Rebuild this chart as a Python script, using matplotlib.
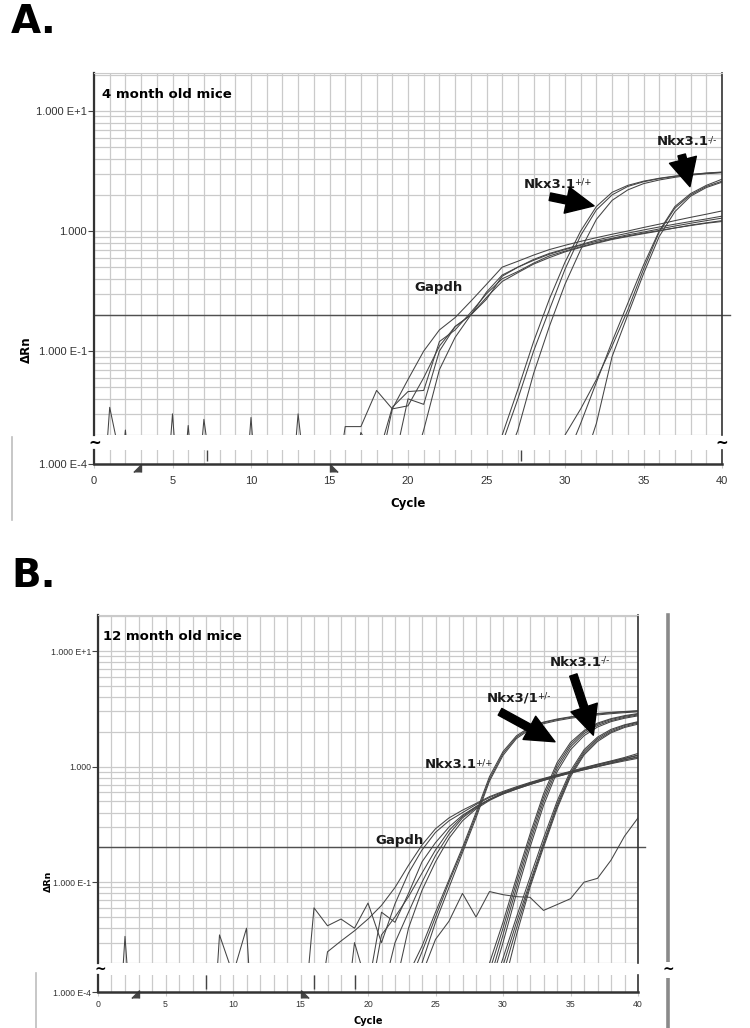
import matplotlib
matplotlib.use("Agg")
import matplotlib.pyplot as plt
from matplotlib.lines import Line2D
from matplotlib.ticker import FixedLocator, LogLocator, MultipleLocator, NullFormatter
from matplotlib.transforms import blended_transform_factory

# ---------------- panel A: 4 month old mice ----------------
a_gapdh_cyc = list(range(15, 41))
a_gapdh_1 = [0.003, 0.0235, 0.0235, 0.047, 0.033, 0.058, 0.10, 0.15, 0.19, 0.26, 0.36, 0.50, 0.56,
             0.63, 0.70, 0.76, 0.82, 0.88, 0.94, 1.00, 1.07, 1.14, 1.22, 1.30, 1.38, 1.47]
a_gapdh_2 = [0.003, 0.005, 0.021, 0.012, 0.034, 0.046, 0.047, 0.12, 0.15, 0.21, 0.30, 0.40, 0.46,
             0.54, 0.62, 0.68, 0.74, 0.80, 0.86, 0.91, 0.96, 1.01, 1.06, 1.12, 1.17, 1.22]
a_gapdh_3 = [0.003, 0.004, 0.004, 0.008, 0.033, 0.035, 0.06, 0.11, 0.16, 0.20, 0.31, 0.43, 0.50,
             0.57, 0.64, 0.70, 0.76, 0.82, 0.87, 0.93, 0.98, 1.04, 1.10, 1.16, 1.22, 1.28]
a_gapdh_4 = [0.003, 0.004, 0.004, 0.004, 0.004, 0.008, 0.022, 0.07, 0.13, 0.20, 0.28, 0.38, 0.45,
             0.53, 0.60, 0.67, 0.73, 0.79, 0.85, 0.90, 0.95, 1.00, 1.06, 1.11, 1.16, 1.20]
a_gapdh_5 = [0.003, 0.004, 0.004, 0.004, 0.010, 0.040, 0.036, 0.10, 0.16, 0.20, 0.27, 0.42, 0.50,
             0.58, 0.65, 0.71, 0.77, 0.84, 0.90, 0.96, 1.02, 1.08, 1.14, 1.20, 1.26, 1.33]

a_wt_cyc = list(range(25, 41))
a_wt_1 = [0.008, 0.02, 0.048, 0.12, 0.27, 0.55, 1.0, 1.6, 2.1, 2.4, 2.6, 2.75, 2.87, 2.96, 3.04, 3.1]
a_wt_2 = [0.006, 0.017, 0.04, 0.10, 0.22, 0.48, 0.92, 1.5, 2.0, 2.35, 2.57, 2.73, 2.85, 2.95, 3.03, 3.08]
a_wt_3 = [0.004, 0.01, 0.022, 0.065, 0.16, 0.36, 0.70, 1.25, 1.8, 2.2, 2.48, 2.66, 2.8, 2.92, 3.0, 3.06]

a_ko_cyc = list(range(29, 41))
a_ko_1 = [0.008, 0.02, 0.033, 0.058, 0.11, 0.22, 0.48, 0.98, 1.55, 2.0, 2.35, 2.6]
a_ko_2 = [0.005, 0.012, 0.025, 0.055, 0.12, 0.25, 0.52, 1.0, 1.6, 2.05, 2.4, 2.7]
a_ko_3 = [0.004, 0.006, 0.01, 0.025, 0.09, 0.20, 0.44, 0.9, 1.45, 1.95, 2.3, 2.55]

a_noise_cyc = [[0, 1, 2], [1, 2, 3], [4, 5, 6], [5, 6, 7], [6, 7, 8], [9, 10, 11], [12, 13, 14]]
a_noise_val = [[0.0005, 0.034, 0.008], [0.001, 0.022, 0.001], [0.0005, 0.030, 0.0005],
               [0.0008, 0.024, 0.0008], [0.0008, 0.027, 0.003], [0.0005, 0.028, 0.0005],
               [0.0008, 0.030, 0.002]]
a_strip_marks = [7.2, 27.2]

# ---------------- panel B: 12 month old mice ----------------
b_gapdh_cyc = list(range(15, 41))
b_gapdh_1 = [0.004, 0.004, 0.025, 0.031, 0.038, 0.048, 0.063, 0.09, 0.14, 0.21, 0.29, 0.36, 0.42,
             0.48, 0.55, 0.61, 0.67, 0.73, 0.79, 0.85, 0.91, 0.98, 1.05, 1.12, 1.20, 1.30]
b_gapdh_2 = [0.003, 0.06, 0.042, 0.048, 0.04, 0.066, 0.03, 0.065, 0.12, 0.19, 0.27, 0.34, 0.40,
             0.47, 0.54, 0.60, 0.66, 0.72, 0.78, 0.84, 0.90, 0.96, 1.03, 1.10, 1.17, 1.25]
b_gapdh_3 = [0.003, 0.003, 0.003, 0.003, 0.03, 0.012, 0.055, 0.045, 0.08, 0.15, 0.22, 0.30, 0.38,
             0.45, 0.52, 0.58, 0.64, 0.70, 0.76, 0.82, 0.88, 0.94, 1.00, 1.07, 1.14, 1.22]
b_gapdh_4 = [0.003, 0.003, 0.003, 0.003, 0.003, 0.008, 0.035, 0.05, 0.075, 0.12, 0.19, 0.28, 0.37,
             0.45, 0.52, 0.59, 0.65, 0.71, 0.77, 0.83, 0.89, 0.95, 1.01, 1.08, 1.15, 1.20]
b_gapdh_5 = [0.003, 0.003, 0.003, 0.003, 0.003, 0.003, 0.01, 0.03, 0.055, 0.10, 0.17, 0.26, 0.36,
             0.44, 0.52, 0.59, 0.65, 0.72, 0.78, 0.84, 0.90, 0.97, 1.04, 1.11, 1.18, 1.26]
b_gapdh_6 = [0.003, 0.003, 0.003, 0.003, 0.003, 0.003, 0.003, 0.012, 0.04, 0.085, 0.15, 0.24, 0.34,
             0.43, 0.51, 0.58, 0.64, 0.70, 0.76, 0.82, 0.88, 0.94, 1.00, 1.06, 1.12, 1.18]

b_wt_cyc = list(range(22, 41))
b_wt_1 = [0.006, 0.016, 0.028, 0.055, 0.105, 0.20, 0.40, 0.82, 1.35, 1.85, 2.2, 2.43, 2.58, 2.7,
          2.8, 2.88, 2.95, 3.0, 3.05]
b_wt_2 = [0.005, 0.013, 0.025, 0.05, 0.10, 0.19, 0.38, 0.78, 1.3, 1.8, 2.15, 2.4, 2.55, 2.67,
          2.77, 2.85, 2.92, 2.98, 3.02]
b_wt_3 = [0.004, 0.01, 0.02, 0.045, 0.09, 0.18, 0.36, 0.75, 1.25, 1.75, 2.1, 2.35, 2.5, 2.62,
          2.72, 2.8, 2.87, 2.93, 2.98]

b_het_cyc = list(range(27, 41))
b_het_1 = [0.004, 0.01, 0.02, 0.045, 0.11, 0.26, 0.58, 1.08, 1.62, 2.05, 2.38, 2.6, 2.76, 2.88]
b_het_2 = [0.003, 0.008, 0.017, 0.04, 0.10, 0.24, 0.54, 1.02, 1.55, 2.0, 2.33, 2.56, 2.72, 2.85]
b_het_3 = [0.003, 0.006, 0.014, 0.035, 0.09, 0.22, 0.50, 0.96, 1.48, 1.93, 2.27, 2.5, 2.67, 2.8]
b_het_4 = [0.003, 0.005, 0.012, 0.03, 0.08, 0.20, 0.46, 0.90, 1.4, 1.85, 2.2, 2.45, 2.62, 2.75]

b_ko_cyc = list(range(28, 41))
b_ko_1 = [0.004, 0.01, 0.022, 0.05, 0.11, 0.24, 0.50, 0.92, 1.4, 1.8, 2.1, 2.3, 2.45]
b_ko_2 = [0.003, 0.008, 0.019, 0.045, 0.10, 0.22, 0.47, 0.88, 1.35, 1.75, 2.05, 2.27, 2.42]
b_ko_3 = [0.003, 0.006, 0.016, 0.04, 0.095, 0.21, 0.45, 0.85, 1.3, 1.7, 2.0, 2.22, 2.38]
b_ko_4 = [0.002, 0.005, 0.012, 0.035, 0.09, 0.20, 0.43, 0.82, 1.26, 1.65, 1.96, 2.18, 2.33]

b_late_cyc = list(range(23, 41))
b_late = [0.006, 0.016, 0.032, 0.046, 0.08, 0.05, 0.083, 0.078, 0.075, 0.074, 0.057, 0.064,
          0.072, 0.10, 0.108, 0.155, 0.25, 0.36]

b_noise_cyc = [[1, 2, 3], [8, 9, 10, 11, 12]]
b_noise_val = [[0.0005, 0.034, 0.0008], [0.0005, 0.035, 0.016, 0.04, 0.0005]]
b_strip_marks = [8.0, 16.0, 19.0]

threshold = 0.2
baseline_start = 3
baseline_end = 15

# ---------------- drawing ----------------
W, H = 750, 1028
GRID = "#cacaca"
INK = "#444444"
TICKFONT = "Liberation Sans"
BOLD = "DejaVu Sans"

fig = plt.figure(figsize=(W / 100, H / 100), dpi=100)


def rect(left, top, right, bottom):
    return [left / W, 1 - bottom / H, (right - left) / W, (bottom - top) / H]


def fx(px):
    return px / W


def fy(py):
    return 1 - py / H


def draw_panel(main_box, strip_box, ymax, tsize, curves, noise, marks, tri_px, xpad):
    ax = fig.add_axes(rect(*main_box))
    ax.set_yscale("log")
    ax.set_xlim(0, 40)
    ax.set_ylim(0.02, ymax)
    ax.xaxis.set_major_locator(MultipleLocator(5))
    ax.xaxis.set_minor_locator(MultipleLocator(1))
    ax.yaxis.set_major_locator(FixedLocator([0.1, 1, 10]))
    ax.yaxis.set_minor_locator(LogLocator(base=10, subs=range(2, 10)))
    ax.yaxis.set_minor_formatter(NullFormatter())
    ax.set_yticklabels(["1.000 E-1", "1.000", "1.000 E+1"], fontfamily=TICKFONT)
    ax.grid(which="both", color=GRID, lw=0.9)
    ax.set_axisbelow(True)
    ax.tick_params(axis="x", which="both", length=0, labelbottom=False)
    ax.tick_params(axis="y", which="minor", length=0)
    ax.tick_params(axis="y", which="major", length=4, width=0.8, color=INK,
                   labelsize=tsize, labelcolor="#333333", pad=1)
    ax.spines["bottom"].set_visible(False)
    ax.spines["top"].set_color(GRID)
    ax.spines["left"].set_color("#333333")
    ax.spines["left"].set_linewidth(1.6)
    ax.spines["right"].set_color("#333333")
    ax.spines["right"].set_linewidth(1.2)

    ax.plot([0, 40.5], [threshold, threshold], color="#505050", lw=1.0, clip_on=False)
    for cyc, vals in curves:
        ax.plot(cyc, vals, color=INK, lw=0.75)
    for cyc, vals in zip(*noise):
        ax.plot(cyc, vals, color=INK, lw=0.75)

    st = fig.add_axes(rect(*strip_box))
    st.set_xlim(0, 40)
    st.set_ylim(0, 1)
    st.xaxis.set_major_locator(MultipleLocator(5))
    st.xaxis.set_minor_locator(MultipleLocator(1))
    st.grid(which="both", axis="x", color=GRID, lw=0.9)
    st.set_axisbelow(True)
    st.set_yticks([0])
    st.set_yticklabels(["1.000 E-4"], fontfamily=TICKFONT)
    st.tick_params(axis="y", length=4, width=0.8, color=INK, labelsize=tsize,
                   labelcolor="#333333", pad=1)
    st.tick_params(axis="x", which="major", length=3, color=GRID, labelsize=tsize,
                   labelcolor="#333333", pad=xpad)
    st.tick_params(axis="x", which="minor", length=0)
    for lab in st.get_xticklabels():
        lab.set_fontfamily(TICKFONT)
    st.spines["top"].set_visible(False)
    st.spines["bottom"].set_color("#333333")
    st.spines["bottom"].set_linewidth(1.8)
    for side, lw in (("left", 1.6), ("right", 1.2)):
        st.spines[side].set_color("#333333")
        st.spines[side].set_linewidth(lw)
    st.vlines(marks, 0.2, 1.0, color=INK, lw=1.0)

    strip_h = strip_box[3] - strip_box[1]
    tr = blended_transform_factory(st.transData, st.transAxes)
    ty = -tri_px / strip_h
    st.plot([baseline_start], [ty], marker=[(0, 0), (0, 1), (-1, 0)], ms=11, color=INK,
            transform=tr, clip_on=False, ls="none")
    st.plot([baseline_end], [ty], marker=[(0, 0), (0, 1), (1, 0)], ms=11, color=INK,
            transform=tr, clip_on=False, ls="none")
    return ax, st


def label(ax, x, y, main, sup, size=9.5, ha="left"):
    t = ax.text(x, y, main, fontsize=size, fontweight="bold", fontfamily=BOLD,
                ha=ha, va="center", color="#1a1a1a")
    if sup:
        ax.annotate(sup, xy=(1.0, 0.97), xycoords=t, xytext=(-1.2, 0), textcoords="offset points",
                    fontsize=6.3, fontfamily=BOLD, ha="left", va="top", color="#1a1a1a")
    return t


def arrow(ax, tail, head, width, hw, hl):
    ax.annotate("", xy=head, xytext=tail,
                arrowprops=dict(facecolor="black", edgecolor="black", width=width,
                                headwidth=hw, headlength=hl, shrink=0.0))


# ---- panel A ----
a_curves = [(a_gapdh_cyc, v) for v in (a_gapdh_1, a_gapdh_2, a_gapdh_3, a_gapdh_4, a_gapdh_5)]
a_curves += [(a_wt_cyc, v) for v in (a_wt_1, a_wt_2, a_wt_3)]
a_curves += [(a_ko_cyc, v) for v in (a_ko_1, a_ko_2, a_ko_3)]
axA, stA = draw_panel((94, 73, 722, 435), (94, 450, 722, 464), 20.7, 8, a_curves,
                      (a_noise_cyc, a_noise_val), a_strip_marks, 8, 6)
label(axA, 21.94, 0.341, "Gapdh", None, ha="center")
label(axA, 27.39, 2.46, "Nkx3.1", "+/+")
label(axA, 35.86, 5.52, "Nkx3.1", "-/-")
arrow(axA, (29.04, 1.93), (31.85, 1.62), 5.5, 19, 20)
arrow(axA, (37.43, 4.3), (37.96, 2.34), 5.5, 20, 20)

fig.text(fx(11), fy(22), "A.", fontsize=28, fontweight="bold", fontfamily=BOLD, va="center")
fig.text(fx(102), fy(95), "4 month old mice", fontsize=9.5, fontweight="bold",
         fontfamily=BOLD, va="center")
fig.text(fx(26), fy(350), "ΔRn", rotation=90, fontsize=8.5, fontweight="bold",
         fontfamily=BOLD, ha="center", va="center")
fig.text(fx(408), fy(503), "Cycle", fontsize=8.5, fontweight="bold", fontfamily=BOLD,
         ha="center", va="center")
for px in (95, 722):
    fig.text(fx(px), fy(443), "~", fontsize=11, fontweight="bold", fontfamily=BOLD,
             ha="center", va="center")
fig.add_artist(Line2D([fx(12), fx(12)], [fy(437), fy(520)], color="#bdbdbd", lw=1.2))

# ---- panel B ----
b_curves = [(b_gapdh_cyc, v) for v in (b_gapdh_1, b_gapdh_2, b_gapdh_3, b_gapdh_4, b_gapdh_5,
                                       b_gapdh_6)]
b_curves += [(b_wt_cyc, v) for v in (b_wt_1, b_wt_2, b_wt_3)]
b_curves += [(b_het_cyc, v) for v in (b_het_1, b_het_2, b_het_3, b_het_4)]
b_curves += [(b_ko_cyc, v) for v in (b_ko_1, b_ko_2, b_ko_3, b_ko_4)]
b_curves += [(b_late_cyc, b_late)]
axB, stB = draw_panel((98, 615, 638, 963), (98, 975, 638, 992), 20.5, 6.3, b_curves,
                      (b_noise_cyc, b_noise_val), b_strip_marks, 6, 3)
label(axB, 22.33, 0.231, "Gapdh", None, ha="center")
label(axB, 24.22, 1.05, "Nkx3.1", "+/+")
label(axB, 28.79, 3.96, "Nkx3/1", "+/-")
label(axB, 33.48, 8.03, "Nkx3.1", "-/-")
arrow(axB, (29.78, 2.98), (33.85, 1.64), 5.5, 19, 21)
arrow(axB, (35.21, 6.2), (36.69, 1.87), 5.5, 20, 21)

fig.text(fx(11), fy(576), "B.", fontsize=28, fontweight="bold", fontfamily=BOLD, va="center")
fig.text(fx(103), fy(637), "12 month old mice", fontsize=9.5, fontweight="bold",
         fontfamily=BOLD, va="center")
fig.text(fx(48), fy(881), "ΔRn", rotation=90, fontsize=6.8, fontweight="bold",
         fontfamily=BOLD, ha="center", va="center")
fig.text(fx(368), fy(1021), "Cycle", fontsize=7, fontweight="bold", fontfamily=BOLD,
         ha="center", va="center")
fig.text(fx(100), fy(970), "~", fontsize=10, fontweight="bold", fontfamily=BOLD,
         ha="center", va="center")
fig.add_artist(Line2D([fx(668), fx(668)], [fy(615), fy(1028)], color="#8a8a8a", lw=2.6))
fig.text(fx(668), fy(970), "~", fontsize=10, fontweight="bold", fontfamily=BOLD,
         ha="center", va="center", bbox=dict(facecolor="white", edgecolor="none", pad=0.5))
fig.add_artist(Line2D([fx(36), fx(36)], [fy(973), fy(1028)], color="#bdbdbd", lw=1.2))

fig.savefig("out.png", dpi=100)
